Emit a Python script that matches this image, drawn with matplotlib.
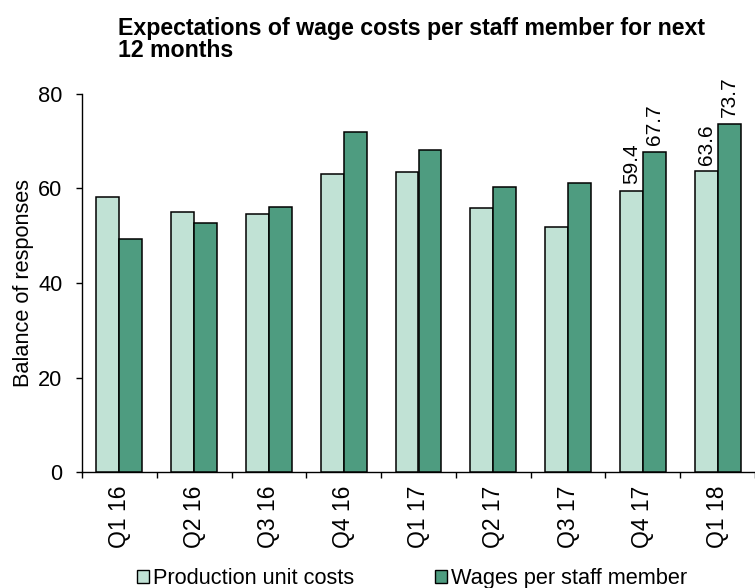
import matplotlib
matplotlib.use("Agg")
import matplotlib.pyplot as plt
import numpy as np
from matplotlib.patches import Patch

categories = ["Q1 16", "Q2 16", "Q3 16", "Q4 16", "Q1 17", "Q2 17", "Q3 17", "Q4 17", "Q1 18"]
production_unit_costs = [58.2, 55.0, 54.6, 63.1, 63.5, 55.8, 51.9, 59.4, 63.6]
wages_per_staff = [49.3, 52.7, 56.1, 72.0, 68.2, 60.4, 61.2, 67.7, 73.7]
labelled = [7, 8]

light = "#C1E2D5"
dark = "#4E9C80"

plt.rcParams['font.family'] = ['Liberation Sans', 'DejaVu Sans']

fig = plt.figure(figsize=(7.55, 5.88), dpi=100)
ax = fig.add_axes([82/755, 1-472/588, 673/755, (472-94)/588])

x = np.arange(len(categories))
w = 0.307
ax.bar(x - w/2, production_unit_costs, w, color=light, edgecolor="black", linewidth=1.1, zorder=3)
ax.bar(x + w/2, wages_per_staff, w, color=dark, edgecolor="black", linewidth=1.1, zorder=3)

for i in labelled:
    ax.annotate(f"{production_unit_costs[i]:.1f}", (x[i] - w/2, production_unit_costs[i]),
                xytext=(0, 5), textcoords="offset points", rotation=90,
                ha="center", va="bottom", fontsize=15)
    ax.annotate(f"{wages_per_staff[i]:.1f}", (x[i] + w/2, wages_per_staff[i]),
                xytext=(0, 5), textcoords="offset points", rotation=90,
                ha="center", va="bottom", fontsize=15)

ax.set_xlim(-0.5, len(categories) - 0.5)
ax.set_ylim(0, 80)
ax.set_yticks([0, 20, 40, 60, 80])
ax.set_xticks(x)
ax.set_xticklabels(categories, rotation=90, fontsize=16.5)
ax.set_xticks(np.arange(len(categories) + 1) - 0.5, minor=True)
ax.tick_params(axis="x", which="major", length=0, pad=10)
ax.tick_params(axis="x", which="minor", length=4, width=1, direction="out")
ax.tick_params(axis="y", length=4, width=1, direction="out", pad=10, labelsize=15.7)
ax.set_ylabel("Balance of responses", fontsize=15.7, labelpad=3)

for s in ["top", "right"]:
    ax.spines[s].set_visible(False)
for s in ["left", "bottom"]:
    ax.spines[s].set_linewidth(1.0)

fig.text(118/755, 1 - 17/588, "Expectations of wage costs per staff member for next\n12 months",
         ha="left", va="top", fontsize=16.7, fontweight="bold", linespacing=0.95)

handles = [Patch(facecolor=light, edgecolor="black", linewidth=1.0),
           Patch(facecolor=dark, edgecolor="black", linewidth=1.0)]
fig.legend(handles, ["Production unit costs", "Wages per staff member"],
           loc="center", bbox_to_anchor=(0.546, 0.016), ncol=2, frameon=False,
           fontsize=15.7, handlelength=0.55, handleheight=0.55, handletextpad=0.2,
           columnspacing=3.7, borderpad=0)

fig.savefig("out.png", dpi=100)
